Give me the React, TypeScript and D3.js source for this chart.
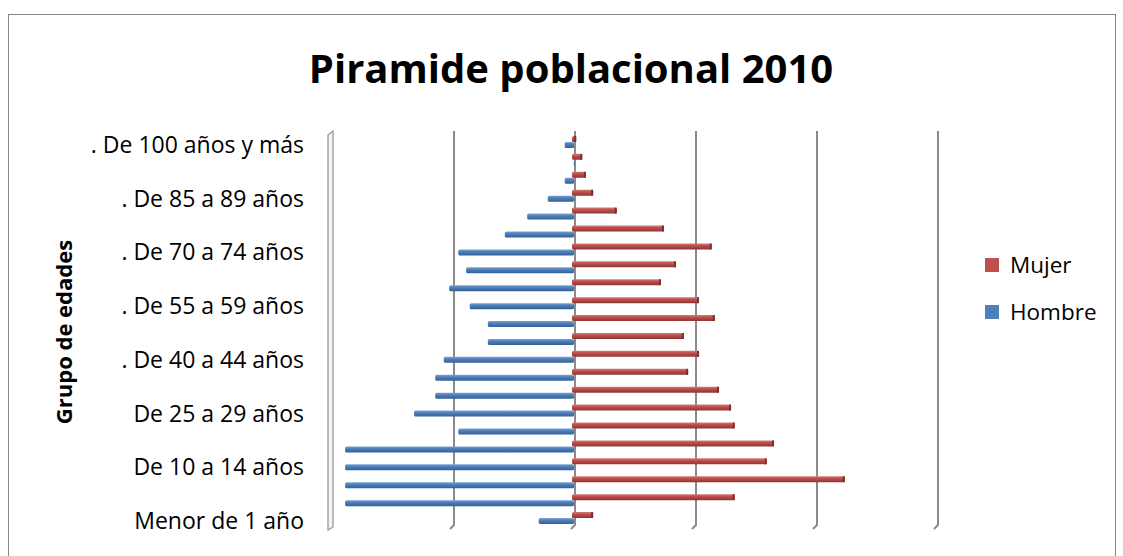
import React from 'react';
import * as d3 from 'd3';

// age groups, bottom to top
const grupos = [
  'Menor de 1 año', 'De 1 a 4 años', 'De 5 a 9 años', 'De 10 a 14 años',
  'De 15 a 19 años', 'De 20 a 24 años', 'De 25 a 29 años', 'De 30 a 34 años',
  'De 35 a 39 años', '. De 40 a 44 años', '. De 45 a 49 años', '. De 50 a 54 años',
  '. De 55 a 59 años', '. De 60 a 64 años', '. De 65 a 69 años', '. De 70 a 74 años',
  '. De 75 a 79 años', '. De 80 a 84 años', '. De 85 a 89 años', '. De 90 a 94 años',
  '. De 95 a 99 años', '. De 100 años y más',
];
const hombre = [0.6, 3.8, 3.8, 3.8, 3.8, 1.93, 2.66, 2.31, 2.31, 2.17, 1.44, 1.44, 1.74, 2.08, 1.8, 1.93, 1.16, 0.79, 0.45, 0.17, 0.02, 0.17];
const mujer = [0.3, 2.64, 4.46, 3.17, 3.29, 2.64, 2.58, 2.38, 1.87, 2.05, 1.8, 2.31, 2.05, 1.42, 1.67, 2.26, 1.47, 0.69, 0.3, 0.18, 0.12, 0.02];
const gridTicks = [-4, -2, 0, 2, 4, 6];
const series = ['Mujer', 'Hombre'];

const FONT = "'Open Sans', 'DejaVu Sans', sans-serif";
const AZUL = '#4F81BD';
const ROJO = '#C0504D';

const App = () => {
  const width = 1123;
  const height = 556;
  const top = 131;
  const bottom = 527;

  const x = d3.scaleLinear().domain([-4, 6]).range([333, 938]);
  const y = d3.scaleBand().domain(grupos).range([bottom, top + 2]).padding(0);
  const barH = 6;
  const x0 = x(0);

  return (
    <svg width={width} height={height} style={{ position: 'absolute', left: 0, top: 0, background: '#fff' }}>
      <defs>
        <linearGradient id="gAzul" x1="0" y1="0" x2="0" y2="1">
          <stop offset="0" stopColor="#7EA3D3" />
          <stop offset="0.35" stopColor={AZUL} />
          <stop offset="1" stopColor="#355F92" />
        </linearGradient>
        <linearGradient id="gRojo" x1="0" y1="0" x2="0" y2="1">
          <stop offset="0" stopColor="#D67C79" />
          <stop offset="0.35" stopColor={ROJO} />
          <stop offset="1" stopColor="#8E3532" />
        </linearGradient>
      </defs>

      {/* outer border */}
      <rect x={8.5} y={14.5} width={1107} height={560} fill="none" stroke="#868686" strokeWidth={1} />

      {/* title */}
      <text x={571} y={83} textAnchor="middle" fontFamily={FONT} fontWeight="bold" fontSize={40} fill="#000">
        Piramide poblacional 2010
      </text>

      {/* left wall of the 3d plot */}
      <path
        d={`M${x(-4) - 5},${top + 4} L${x(-4)},${top} L${x(-4)},${bottom} L${x(-4) - 5},${bottom + 3} Z`}
        fill="#f4f4f4" stroke="#9a9a9a" strokeWidth={1.3}
      />

      {/* gridlines */}
      {gridTicks.slice(1).map((t) => (
        <path key={t}
          d={`M${x(t)},${top} L${x(t)},${bottom - 2} L${x(t) - 4},${bottom + 2}`}
          fill="none" stroke="#8a8a8a" strokeWidth={2} />
      ))}

      {/* bars */}
      {grupos.map((g, i) => {
        const c = (y(g) as number) + y.bandwidth() / 2;
        const xh = x(-hombre[i]);
        const xm = x(mujer[i]);
        return (
          <g key={g}>
            <rect x={xh} y={c} width={Math.max(x0 - 1 - xh, 1)} height={barH} rx={1.5}
              fill="url(#gAzul)" />
            <rect x={x0 - 3} y={c - barH} width={Math.max(xm - x0 + 3, 2)} height={barH} rx={1.5}
              fill="url(#gRojo)" />
            <rect x={Math.max(xm - 2, x0 - 2)} y={c - barH} width={2} height={barH}
              fill="#7E2E2B" />
          </g>
        );
      })}

      {/* category labels, every third group */}
      {grupos.map((g, i) => (i % 3 === 0 ? (
        <text key={g} x={304} y={(y(g) as number) + y.bandwidth() / 2 + 3} dy="0.35em"
          textAnchor="end" fontFamily={FONT} fontSize={23} fill="#000">
          {g}
        </text>
      ) : null))}

      {/* axis title */}
      <text transform={`translate(72,332) rotate(-90)`} textAnchor="middle"
        fontFamily={FONT} fontWeight="bold" fontSize={22} fill="#000">
        Grupo de edades
      </text>

      {/* legend */}
      {series.map((s, i) => (
        <g key={s} transform={`translate(985,${258 + i * 47})`}>
          <rect width={14} height={14} fill={s === 'Mujer' ? ROJO : AZUL} />
          <text x={25} y={7} dy="0.35em" fontFamily={FONT} fontSize={22.5} fill="#000">{s}</text>
        </g>
      ))}
    </svg>
  );
};

export default App;
